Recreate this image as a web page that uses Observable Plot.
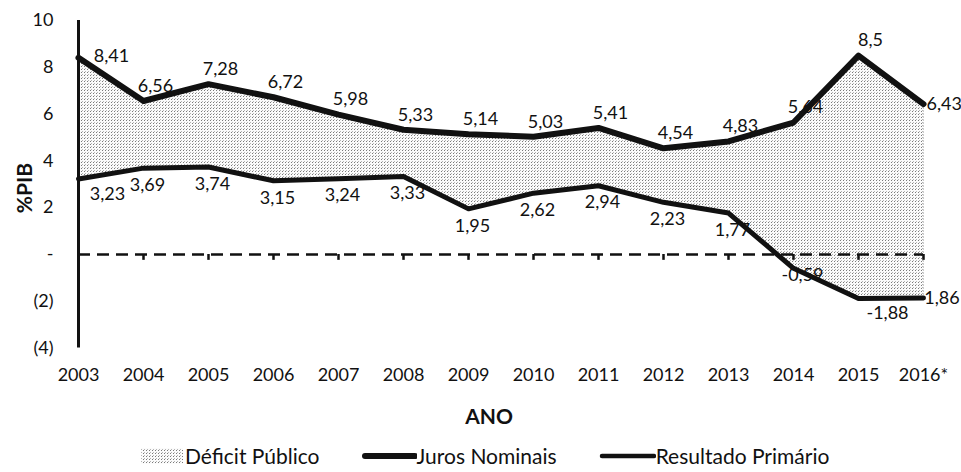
<!DOCTYPE html>
<html>
<head>
<meta charset="utf-8">
<script src="https://cdn.jsdelivr.net/npm/d3@7"></script>
<script src="https://cdn.jsdelivr.net/npm/@observablehq/plot@0.6"></script>
<style>
  html, body { margin: 0; padding: 0; background: #fff; }
  body { width: 961px; height: 472px; overflow: hidden; font-family: Lato, "Open Sans", sans-serif; }
  #chart svg { display: block; }
  #legend { display: flex; justify-content: flex-start; align-items: center; gap: 41px; font-size: 21px; line-height: 24px; color: #111; height: 28px; margin-top: 6px; padding-left: 140px; }
  #legend .item { display: flex; align-items: center; }
  #legend svg { display: block; }
</style>
</head>
<body>
<div id="chart"></div>
<div id="legend"></div>
<script>
const years = [2003, 2004, 2005, 2006, 2007, 2008, 2009, 2010, 2011, 2012, 2013, 2014, 2015, 2016];
const yearLabels = ["2003", "2004", "2005", "2006", "2007", "2008", "2009", "2010", "2011", "2012", "2013", "2014", "2015", "2016*"];
const jurosNominais = [8.41, 6.56, 7.28, 6.72, 5.98, 5.33, 5.14, 5.03, 5.41, 4.54, 4.83, 5.64, 8.5, 6.43];
const resultadoPrimario = [3.23, 3.69, 3.74, 3.15, 3.24, 3.33, 1.95, 2.62, 2.94, 2.23, 1.77, -0.59, -1.88, -1.86];
const yTicks = [-4, -2, 0, 2, 4, 6, 8, 10];
const yTickLabels = ["(4)", "(2)", "-", "2", "4", "6", "8", "10"];
const seriesNames = ["Déficit Público", "Juros Nominais", "Resultado Primário"];

const rows = years.map((year, i) => ({ year, juros: jurosNominais[i], prim: resultadoPrimario[i] }));
const fmt = v => String(v).replace(".", ",");
const font = "Lato, 'Open Sans', sans-serif";
const first = years[0], last = years[years.length - 1];

const labelStyle = { fontSize: 18, fill: "#111" };
const jurosText = (filter, opts) => Plot.text(rows, { x: "year", y: "juros", text: d => fmt(d.juros), filter, ...labelStyle, ...opts });
const primText = (filter, opts) => Plot.text(rows, { x: "year", y: "prim", text: d => fmt(d.prim), filter, ...labelStyle, ...opts });

const chart = Plot.plot({
  width: 961,
  height: 436,
  marginLeft: 78,
  marginRight: 38,
  marginTop: 20,
  marginBottom: 88.4,
  style: { fontFamily: font, fontSize: "18px", color: "#111", background: "#fff" },
  x: { domain: [first, last] },
  y: { domain: [-4, 10] },
  marks: [
    Plot.areaY(rows, { x: "year", y1: "prim", y2: "juros", fill: "url(#dots)" }),
    Plot.ruleX(rows.slice(-1), { x: "year", y1: "prim", y2: "juros", stroke: "#999", strokeWidth: 1, strokeDasharray: "1,2" }),
    Plot.ruleY([0], { stroke: "#111", strokeWidth: 2.5, strokeDasharray: "12,7" }),
    Plot.ruleX(years.slice(1), { x: d => d, y1: 0, y2: -0.25, stroke: "#111", strokeWidth: 2.5 }),
    Plot.ruleX([first], { x: d => d, y1: -4, y2: 10, stroke: "#111", strokeWidth: 3 }),
    primText(d => d.year === last, { textAnchor: "start", dx: -6, dy: 0 }),
    Plot.lineY(rows, { x: "year", y: "prim", stroke: "#111", strokeWidth: 5 }),
    Plot.lineY(rows, { x: "year", y: "juros", stroke: "#111", strokeWidth: 6 }),
    jurosText(d => d.year > first && d.year < last, { dx: 12, dy: -15 }),
    jurosText(d => d.year === first, { dx: 33, dy: -1 }),
    jurosText(d => d.year === last, { textAnchor: "start", dx: 3, dy: 0 }),
    primText(d => d.year > first && d.year < 2014, { dx: 4, dy: 17 }),
    primText(d => d.year === first || d.year === 2015, { dx: 29, dy: 15 }),
    primText(d => d.year === 2014, { dx: 9, dy: 7 }),
    Plot.axisY({ ticks: yTicks, tickFormat: v => yTickLabels[yTicks.indexOf(v)], tickSize: 0, tickPadding: 25, label: null, fontSize: 18 }),
    Plot.axisX({ ticks: years, tickFormat: v => yearLabels[years.indexOf(v)], tickSize: 0, tickPadding: 20, label: null, fontSize: 18 }),
    Plot.text(["%PIB"], { frameAnchor: "left", text: d => d, rotate: -90, dx: -53, dy: 29, fontSize: 21, fontWeight: "bold", fill: "#111" }),
    Plot.text(["ANO"], { frameAnchor: "bottom", text: d => d, dx: -12, dy: 75.5, fontSize: 21, fontWeight: "bold", fill: "#111" })
  ]
});

const patternDef = id => `<pattern id="${id}" patternUnits="userSpaceOnUse" width="3" height="3">
    <rect width="3" height="3" fill="#fbfbfb"/>
    <rect x="0" y="0" width="1" height="1" fill="#7a7a7a"/>
    <rect x="1" y="2" width="1" height="1" fill="#b5b5b5"/>
  </pattern>`;
chart.insertAdjacentHTML("afterbegin", `<defs>${patternDef("dots")}</defs>`);
document.getElementById("chart").appendChild(chart);

const legend = document.getElementById("legend");
const swatches = [
  `<svg width="45" height="18"><defs>${patternDef("dots2")}</defs><rect x="1" y="1" width="42" height="16" fill="url(#dots2)"/></svg>`,
  `<svg width="56" height="18"><line x1="4" x2="54" y1="9" y2="9" stroke="#111" stroke-width="6" stroke-linecap="round"/></svg>`,
  `<svg width="58" height="18"><line x1="4" x2="56" y1="9" y2="9" stroke="#111" stroke-width="4.5" stroke-linecap="round"/></svg>`
];
seriesNames.forEach((name, i) => {
  const div = document.createElement("div");
  div.className = "item";
  div.innerHTML = swatches[i] + `<span>${name}</span>`;
  legend.appendChild(div);
});
</script>
</body>
</html>
